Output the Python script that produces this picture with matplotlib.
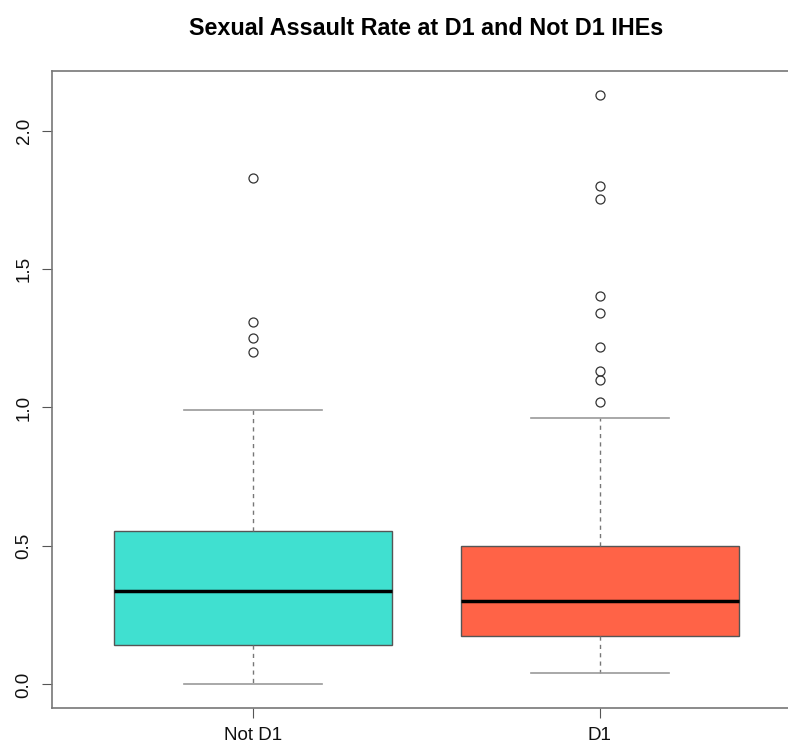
import numpy as np
import matplotlib.pyplot as plt

plt.rcParams['font.family'] = ['Liberation Sans', 'DejaVu Sans']

groups = ["Not D1", "D1"]
colors = ["#40E0D0", "#FF6347"]
whislo = [0.0, 0.04]
q1 = [0.141, 0.174]
med = [0.336, 0.300]
q3 = [0.553, 0.499]
whishi = [0.991, 0.962]
outliers = [
    [1.83, 1.309, 1.251, 1.20],
    [2.13, 1.80, 1.754, 1.403, 1.342, 1.219, 1.132, 1.099, 1.02],
]

stats = []
for i, g in enumerate(groups):
    stats.append(dict(label=g, whislo=whislo[i], q1=q1[i], med=med[i],
                      q3=q3[i], whishi=whishi[i], fliers=outliers[i]))

fig = plt.figure(figsize=(7.88, 7.54), dpi=100)
ax = fig.add_axes([52/788, 1-708/754, (801-52)/788, (708-71)/754])

bp = ax.bxp(stats, positions=[1, 2], widths=0.8, patch_artist=True,
            boxprops=dict(edgecolor="#555555", linewidth=1),
            medianprops=dict(color="black", linewidth=2.5),
            whiskerprops=dict(color="#777777", linestyle=(0, (3, 3)), linewidth=1),
            capprops=dict(color="#999999", linewidth=1.2),
            flierprops=dict(marker="o", markerfacecolor="none",
                            markeredgecolor="#333333", markersize=6.5, markeredgewidth=0.9))
for patch, c in zip(bp["boxes"], colors):
    patch.set_facecolor(c)
# caps are half the box width, as in R
for cap in bp["caps"]:
    cx = np.mean(cap.get_xdata())
    cap.set_xdata([cx - 0.2, cx + 0.2])

ax.set_xlim(0.42, 2.58)
ax.set_ylim(-0.0852, 2.2152)
ax.set_yticks([0.0, 0.5, 1.0, 1.5, 2.0])
ax.set_yticklabels(["0.0", "0.5", "1.0", "1.5", "2.0"], rotation=90, va="center")
ax.set_xticks([1, 2])
ax.set_xticklabels(groups)
ax.tick_params(axis="both", direction="out", length=7, color="#555555",
               labelsize=13.5, labelcolor="#111111", pad=7)
for s in ax.spines.values():
    s.set_color("#777777")
    s.set_linewidth(1.2)

ax.set_title("Sexual Assault Rate at D1 and Not D1 IHEs", fontsize=16.8,
             fontweight="bold", pad=26)

fig.savefig("out.png", dpi=100)
